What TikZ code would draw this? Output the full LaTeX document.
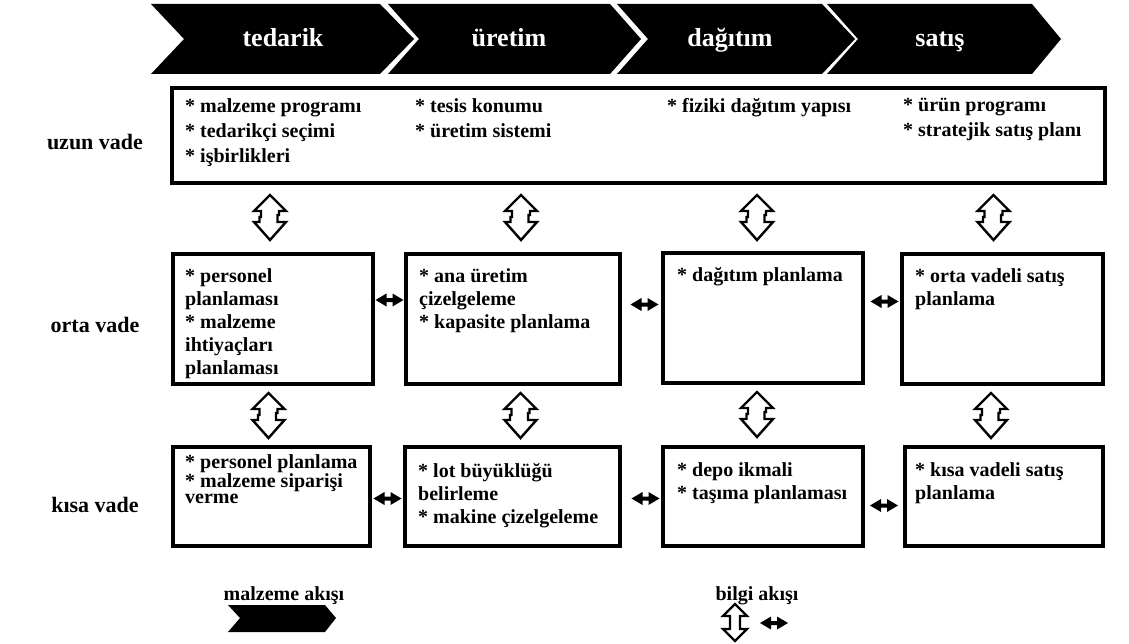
\documentclass[tikz,border=0pt]{standalone}
\usepackage{fontspec}
\setmainfont{Liberation Serif}
\usetikzlibrary{calc}
\begin{document}
\begin{tikzpicture}[x=1pt,y=-1pt,
  frame/.style={draw=black,line width=3.5pt,anchor=north west,inner sep=0pt,outer sep=0pt},
  item/.style={anchor=north west,inner sep=0pt,align=left,font=\fontsize{20}{23}\selectfont\bfseries},
  rowlabel/.style={inner sep=0pt,anchor=base,font=\fontsize{22}{26}\selectfont\bfseries},
  stagetext/.style={inner sep=0pt,anchor=base,text=white,font=\fontsize{26}{30}\selectfont\bfseries},
  legendtext/.style={inner sep=0pt,anchor=base,font=\fontsize{20}{24}\selectfont\bfseries},
  updown/.pic={\draw[line width=2.4pt,fill=white]
      (0,0) -- (16,16) -- (9,16) -- (9,20) -- (7.5,20) -- (7.5,27) -- (16,27) -- (0,45)
      -- (-16,27) -- (-10.5,27) -- (-10.5,22) -- (-9,22) -- (-9,16) -- (-16,16) -- cycle;},
  updownsmall/.pic={\draw[line width=2.3pt,fill=white]
      (0,0) -- (12,12) -- (5,12) -- (5,25) -- (12,25) -- (0,37)
      -- (-12,25) -- (-5,25) -- (-5,12) -- (-12,12) -- cycle;},
  leftright/.pic={\fill[black]
      (-14,0) -- (-3,-6.5) -- (-3,-2) -- (3,-2) -- (3,-6.5) -- (14,0)
      -- (3,6.5) -- (3,2) -- (-3,2) -- (-3,6.5) -- cycle;}
]
\useasboundingbox (0,0) rectangle (1129,644);

% value chain stages
\fill[black] (151,4) -- (380,4) -- (414,39) -- (380,74) -- (151,74) -- (184,39) -- cycle;
\fill[black] (388,4) -- (610,4) -- (641,39) -- (610,74) -- (388,74) -- (419,39) -- cycle;
\fill[black] (617,4) -- (822,4) -- (855,39) -- (822,74) -- (617,74) -- (648,39) -- cycle;
\fill[black] (827,4) -- (1032,4) -- (1061,39) -- (1032,74) -- (827,74) -- (858,39) -- cycle;
\node[stagetext] (s1) at (283,47) {tedarik};
\node[stagetext] (s2) at (509,47) {üretim};
\node[stagetext] (s3) at (730,47) {dağıtım};
\node[stagetext] (s4) at (940,47) {satış};

% planning horizons
\node[rowlabel] (r1) at (95,150) {uzun vade};
\node[rowlabel] (r2) at (95,332) {orta vade};
\node[rowlabel] (r3) at (95,512) {kısa vade};

% long term
\node[frame,minimum width=933pt,minimum height=95pt] (long) at (172,88) {};
\node[item,font=\fontsize{20}{25}\selectfont\bfseries] (l1) at ($(long.north west)+(13,10)$)
  {* malzeme programı\\* tedarikçi seçimi\\* işbirlikleri};
\node[item,font=\fontsize{20}{25}\selectfont\bfseries] (l2) at ($(long.north west)+(243,10)$)
  {* tesis konumu\\* üretim sistemi};
\node[item] (l3) at ($(long.north west)+(495,10)$) {* fiziki dağıtım yapısı};
\node[item,font=\fontsize{20}{25}\selectfont\bfseries] (l4) at ($(long.north west)+(731,10)$)
  {* ürün programı\\* stratejik satış planı};

% medium term
\node[frame,minimum width=200pt,minimum height=130pt] (m1) at (173,254) {};
\node[frame,minimum width=214pt,minimum height=130pt] (m2) at (406,254) {};
\node[frame,minimum width=200pt,minimum height=130pt] (m3) at (663,253) {};
\node[frame,minimum width=201pt,minimum height=130pt] (m4) at (902,254) {};
\node[item] (mt1) at ($(m1.north west)+(12,14)$)
  {* personel\\planlaması\\* malzeme\\ihtiyaçları\\planlaması};
\node[item] (mt2) at ($(m2.north west)+(13,14)$)
  {* ana üretim\\çizelgeleme\\* kapasite planlama};
\node[item] (mt3) at ($(m3.north west)+(14,14)$) {* dağıtım planlama};
\node[item] (mt4) at ($(m4.north west)+(13,14)$)
  {* orta vadeli satış\\planlama};

% short term
\node[frame,minimum width=197pt,minimum height=99pt] (k1) at (173,447) {};
\node[frame,minimum width=215pt,minimum height=99pt] (k2) at (405,447) {};
\node[frame,minimum width=200pt,minimum height=99pt] (k3) at (663,447) {};
\node[frame,minimum width=198pt,minimum height=99pt] (k4) at (905,447) {};
\node[item,font=\fontsize{20}{16}\selectfont\bfseries] (kt1) at ($(k1.north west)+(12,7)$)
  {* personel planlama\\* malzeme siparişi\\verme};
\node[item] (kt2) at ($(k2.north west)+(13,16)$)
  {* lot büyüklüğü\\belirleme\\* makine çizelgeleme};
\node[item] (kt3) at ($(k3.north west)+(14,15)$)
  {* depo ikmali\\* taşıma planlaması};
\node[item] (kt4) at ($(k4.north west)+(10,15)$)
  {* kısa vadeli satış\\planlama};

% information flow between horizons
\pic at ($(m1.north |- long.south)+(-3,12)$) {updown};
\pic at ($(m2.north |- long.south)+(8,12)$) {updown};
\pic at ($(m3.north |- long.south)+(-6,12)$) {updown};
\pic at ($(m4.north |- long.south)+(-9,12)$) {updown};
\pic at ($(k1.north |- m1.south)+(-3,9)$) {updown};
\pic at ($(k2.north |- m2.south)+(8,9)$) {updown};
\pic at ($(k3.north |- m3.south)+(-6,9)$) {updown};
\pic at ($(k4.north |- m4.south)+(-13,9)$) {updown};

% information flow between stages
\pic at ($(m1.east)!0.5!(m2.west)+(0,-19)$) {leftright};
\pic at ($(m2.east)!0.5!(m3.west)+(3,-14)$) {leftright};
\pic at ($(m3.east)!0.5!(m4.west)+(2,-17)$) {leftright};
\pic at ($(k1.east)!0.5!(k2.west)+(0,2)$) {leftright};
\pic at ($(k2.east)!0.5!(k3.west)+(4,2)$) {leftright};
\pic at ($(k3.east)!0.5!(k4.west)+(0,9)$) {leftright};

% legend
\node[legendtext] (lg1) at (284,600) {malzeme akışı};
\fill[black] (228,605) -- (325,605) -- (336,618) -- (325,632) -- (228,632) -- (240,618) -- cycle;
\node[legendtext] (lg2) at (757,600) {bilgi akışı};
\pic at (735,604) {updownsmall};
\pic at (774,623) {leftright};
\end{tikzpicture}
\end{document}
